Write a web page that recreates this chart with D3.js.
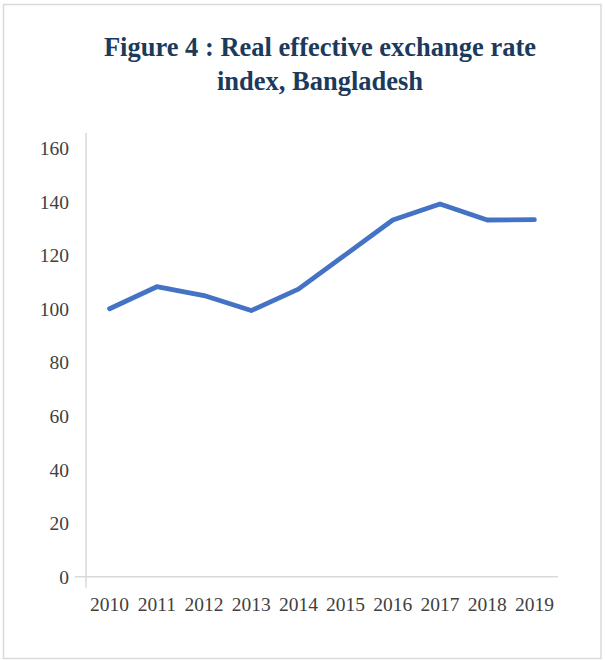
<!DOCTYPE html>
<html>
<head>
<meta charset="utf-8">
<script src="https://cdn.jsdelivr.net/npm/d3@7"></script>
<style>
  html, body { margin: 0; padding: 0; background: #fff; }
  svg { display: block; }
</style>
</head>
<body>
<svg id="chart" width="605" height="660"></svg>
<script>
// Real effective exchange rate index, Bangladesh
const years = ["2010", "2011", "2012", "2013", "2014", "2015", "2016", "2017", "2018", "2019"];
const reerIndex = [100, 108.2, 104.9, 99.3, 107.3, 120.2, 133.1, 139.1, 133.1, 133.2];
const yTicks = [0, 20, 40, 60, 80, 100, 120, 140, 160];
const titleLines = ["Figure 4 : Real effective exchange rate", "index, Bangladesh"];

const svg = d3.select("#chart");
const W = 605, H = 660;
const serif = "'Liberation Serif', 'DejaVu Serif', serif";

// outer frame
svg.append("rect")
  .attr("x", 3.5).attr("y", 4.5)
  .attr("width", W - 7.5).attr("height", H - 6)
  .attr("fill", "#fff")
  .attr("stroke", "#d9d9d9")
  .attr("stroke-width", 1.5);

// title
const title = svg.append("text")
  .attr("text-anchor", "middle")
  .attr("font-family", serif)
  .attr("font-weight", "bold")
  .attr("font-size", 26.5)
  .attr("fill", "#1b3a5c");
titleLines.forEach((t, i) => {
  title.append("tspan").attr("x", 320).attr("y", 56 + i * 34).text(t);
});

const plot = { left: 86, right: 558, top: 133, bottom: 576.7 };

const x = d3.scaleBand().domain(years).range([plot.left, plot.right]);
const y = d3.scaleLinear().domain([0, 160]).range([plot.bottom, plot.bottom - 8 * 53.6]);

// axis lines
svg.append("line")
  .attr("x1", plot.left).attr("x2", plot.left)
  .attr("y1", plot.top).attr("y2", plot.bottom + 11)
  .attr("stroke", "#d9d9d9").attr("stroke-width", 1.5);
svg.append("line")
  .attr("x1", plot.left - 11).attr("x2", plot.right)
  .attr("y1", y(0)).attr("y2", y(0))
  .attr("stroke", "#d9d9d9").attr("stroke-width", 1.5);

// y axis labels
const yAxis = d3.axisLeft(y).tickValues(yTicks).tickSize(0).tickPadding(17);
const gy = svg.append("g").attr("transform", `translate(${plot.left},0)`).call(yAxis);
gy.select(".domain").remove();
gy.selectAll("text")
  .attr("font-family", serif)
  .attr("font-size", 19.5)
  .attr("fill", "#404040")
  .attr("dy", "0.34em");

// x axis labels
const xAxis = d3.axisBottom(x).tickSize(0).tickPadding(20);
const gx = svg.append("g").attr("transform", `translate(0,${y(0)})`).call(xAxis);
gx.select(".domain").remove();
gx.selectAll("text")
  .attr("font-family", serif)
  .attr("font-size", 19.5)
  .attr("fill", "#404040");

// series line
const line = d3.line()
  .x((d, i) => x(years[i]) + x.bandwidth() / 2)
  .y(d => y(d));
svg.append("path")
  .datum(reerIndex)
  .attr("d", line)
  .attr("fill", "none")
  .attr("stroke", "#4472c4")
  .attr("stroke-width", 4.8)
  .attr("stroke-linecap", "round")
  .attr("stroke-linejoin", "round");
</script>
</body>
</html>
